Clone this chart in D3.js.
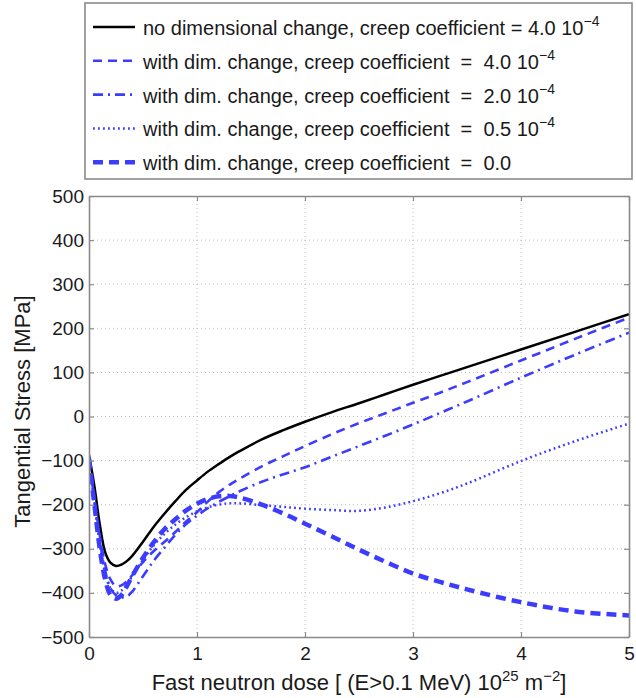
<!DOCTYPE html>
<html>
<head>
<meta charset="utf-8">
<title>Tangential stress vs fast neutron dose</title>
<script src="https://d3js.org/d3.v7.min.js"></script>
<style>
  body { margin: 0; background: #fff; }
  svg text { font-family: "Liberation Sans", Arial, Helvetica, sans-serif; fill: #1a1a1a; }
</style>
</head>
<body>
<div id="chart"></div>
<script>
// fast neutron dose [10^25 m^-2]
var dose = [0, 0.05, 0.1, 0.15, 0.2, 0.25, 0.3, 0.35, 0.4, 0.5, 0.6, 0.7, 0.8, 0.9, 1.0,
            1.1, 1.2, 1.3, 1.4, 1.6, 1.8, 2.0, 2.25, 2.5, 2.75, 3.0, 3.25, 3.5, 4.0, 4.5, 5.0];

// tangential stress [MPa]
var noDimCreep40 = [-88, -158, -245, -308, -332, -339, -336, -328, -316, -284, -250, -220, -192, -166, -145,
                    -125, -108, -92, -78, -52, -31, -12, 10, 30, 51, 72, 92, 112, 152, 192, 232];
var dimCreep40 = [-95, -185, -270, -335, -370, -385, -383, -374, -360, -330, -305, -284, -262, -238, -217,
                  -193, -172, -155, -140, -113, -90, -67, -40, -15, 8, 31, 54, 78, 127, 176, 224];
var dimCreep20 = [-95, -190, -280, -350, -390, -405, -410, -408, -397, -362, -327, -297, -268, -244, -225,
                  -208, -194, -181, -169, -148, -131, -115, -91, -67, -43, -18, 8, 34, 88, 140, 190];
var dimCreep05 = [-95, -195, -290, -355, -390, -400, -395, -380, -362, -325, -292, -266, -245, -228, -215,
                  -206, -200, -197, -197, -201, -205, -209, -212, -214, -206, -192, -174, -152, -101, -56, -16];
var dimCreep00 = [-95, -200, -300, -370, -405, -413, -405, -385, -362, -320, -285, -255, -233, -213, -198,
                  -187, -181, -180, -184, -200, -220, -243, -272, -302, -330, -356, -375, -392, -421, -442, -451];

var seriesNames = ["no dimensional change, creep coefficient = ",
                   "with dim. change, creep coefficient  =  ",
                   "with dim. change, creep coefficient  =  ",
                   "with dim. change, creep coefficient  =  ",
                   "with dim. change, creep coefficient  =  "];
var creepValues = ["4.0 10", "4.0 10", "2.0 10", "0.5 10", "0.0"];
var creepExponents = ["\u22124", "\u22124", "\u22124", "\u22124", ""];

var xTicks = [0, 1, 2, 3, 4, 5];
var yTicks = [-500, -400, -300, -200, -100, 0, 100, 200, 300, 400, 500];

var allSeries = [noDimCreep40, dimCreep40, dimCreep20, dimCreep05, dimCreep00];

// line styles, same order as allSeries
var blue = "#3c3cff";
var lineStyles = [
  {color: "#000", width: 2.5, dash: null},
  {color: blue, width: 2.6, dash: "9,6"},
  {color: blue, width: 2.6, dash: "10,5,2,5"},
  {color: blue, width: 2.5, dash: "1.8,3.2"},
  {color: blue, width: 4.5, dash: "10,6"}
];

var width = 636, height = 698;
var plotL = 89, plotR = 629, plotT = 196, plotB = 637;

var svg = d3.select("#chart").append("svg")
    .attr("width", width)
    .attr("height", height);

var x = d3.scaleLinear().domain([0, 5]).range([plotL, plotR]);
var y = d3.scaleLinear().domain([-500, 500]).range([plotB, plotT]);

// dotted grid
var grid = svg.append("g").attr("class", "grid")
    .attr("stroke", "#bdbdbd").attr("stroke-width", 1).attr("stroke-dasharray", "1,3");
grid.selectAll(".gx").data(xTicks.slice(1, -1)).enter().append("line")
    .attr("x1", function(d) { return x(d); }).attr("x2", function(d) { return x(d); })
    .attr("y1", plotT).attr("y2", plotB);
grid.selectAll(".gy").data(yTicks.slice(1, -1)).enter().append("line")
    .attr("x1", plotL).attr("x2", plotR)
    .attr("y1", function(d) { return y(d); }).attr("y2", function(d) { return y(d); });

// curves
svg.append("clipPath").attr("id", "plotclip").append("rect")
    .attr("x", plotL).attr("y", plotT).attr("width", plotR - plotL).attr("height", plotB - plotT);

var line = d3.line()
    .x(function(d, i) { return x(dose[i]); })
    .y(function(d) { return y(d); })
    .curve(d3.curveCatmullRom.alpha(0.5));

svg.append("g").attr("clip-path", "url(#plotclip)")
  .selectAll("path").data(allSeries).enter().append("path")
    .attr("d", line)
    .attr("fill", "none")
    .attr("stroke", function(d, i) { return lineStyles[i].color; })
    .attr("stroke-width", function(d, i) { return lineStyles[i].width; })
    .attr("stroke-dasharray", function(d, i) { return lineStyles[i].dash; });

// axes (ticks point inward, box on)
var axisColor = "#8a8a8a";
function styleAxis(g) {
  g.select(".domain").attr("stroke", axisColor).attr("stroke-width", 1.6);
  g.selectAll(".tick line").attr("stroke", axisColor).attr("stroke-width", 1.2);
  g.selectAll(".tick text").style("font-size", "19px").attr("fill", "#1a1a1a");
}

svg.append("g").attr("transform", "translate(0," + plotB + ")")
    .call(d3.axisBottom(x).tickValues(xTicks).tickFormat(d3.format("d"))
      .tickSizeInner(-5).tickSizeOuter(0).tickPadding(10))
    .call(styleAxis);
svg.append("g").attr("transform", "translate(" + plotL + ",0)")
    .call(d3.axisLeft(y).tickValues(yTicks).tickFormat(d3.format("d"))
      .tickSizeInner(-5).tickSizeOuter(0).tickPadding(5))
    .call(styleAxis);
svg.append("g").attr("transform", "translate(0," + plotT + ")")
    .call(d3.axisTop(x).tickValues(xTicks).tickSizeInner(-5).tickSizeOuter(0).tickFormat(""))
    .call(styleAxis);
svg.append("g").attr("transform", "translate(" + plotR + ",0)")
    .call(d3.axisRight(y).tickValues(yTicks).tickSizeInner(-5).tickSizeOuter(0).tickFormat(""))
    .call(styleAxis);

// axis titles
var xTitle = svg.append("text")
    .attr("x", (plotL + plotR) / 2).attr("y", 690)
    .attr("text-anchor", "middle")
    .style("font-size", "22px");
xTitle.append("tspan").text("Fast neutron dose [ (E>0.1 MeV) 10");
xTitle.append("tspan").attr("dy", -9).style("font-size", "15px").text("25");
xTitle.append("tspan").attr("dy", 9).text("\u00a0m");
xTitle.append("tspan").attr("dy", -9).style("font-size", "15px").text("\u22122");
xTitle.append("tspan").attr("dy", 9).text("]");

svg.append("text")
    .attr("transform", "translate(30," + ((plotT + plotB) / 2 - 5) + ") rotate(-90)")
    .attr("text-anchor", "middle")
    .style("font-size", "22px")
    .text("Tangential Stress [MPa]");

// legend
var legend = svg.append("g");
legend.append("rect")
    .attr("x", 85).attr("y", 3).attr("width", 547).attr("height", 176)
    .attr("fill", "#fff").attr("stroke", axisColor).attr("stroke-width", 1.6);

var rows = legend.selectAll(".row").data(seriesNames).enter().append("g")
    .attr("transform", function(d, i) { return "translate(0," + (28 + i * 33.8) + ")"; });

rows.append("line")
    .attr("x1", 93).attr("x2", 135).attr("y1", -1).attr("y2", -1)
    .attr("stroke", function(d, i) { return lineStyles[i].color; })
    .attr("stroke-width", function(d, i) { return lineStyles[i].width; })
    .attr("stroke-dasharray", function(d, i) { return lineStyles[i].dash; });

var labels = rows.append("text")
    .attr("x", 143).attr("y", 7)
    .style("font-size", "20px")
    .style("white-space", "pre");
labels.append("tspan").text(function(d) { return d; });
labels.append("tspan").text(function(d, i) { return creepValues[i]; });
labels.append("tspan").attr("dy", -9).style("font-size", "14px")
    .text(function(d, i) { return creepExponents[i]; });
</script>
</body>
</html>
